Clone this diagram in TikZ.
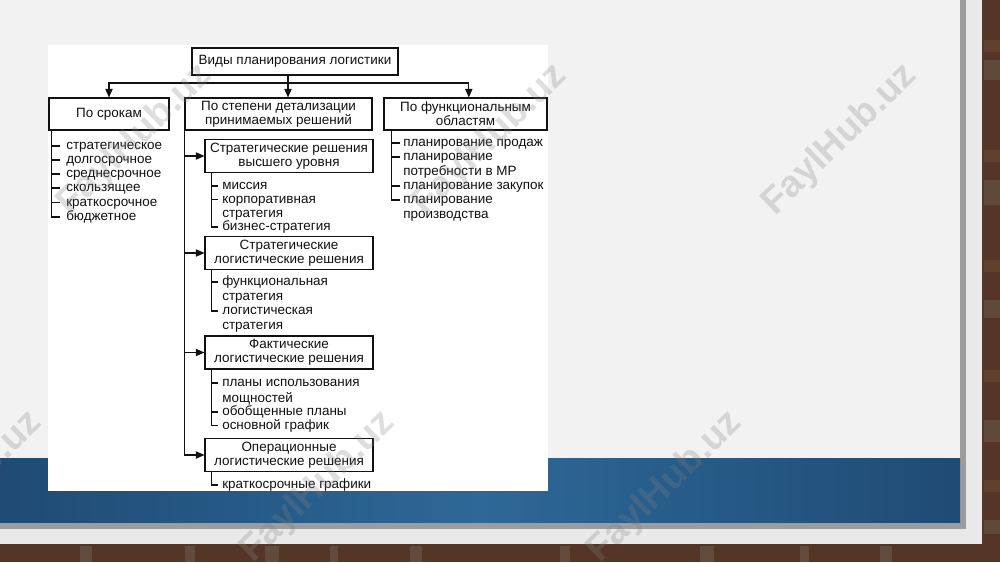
\documentclass[tikz,border=0pt]{standalone}
\usepackage{fontspec}
\setmainfont{Liberation Sans}
\usetikzlibrary{arrows.meta}
\definecolor{brick}{HTML}{553626}
\definecolor{brickB}{HTML}{6E4A36}
\definecolor{brickC}{HTML}{7D7568}
\definecolor{frame}{HTML}{E9E9E9}
\definecolor{slide}{HTML}{F2F2F2}
\definecolor{shadowgray}{HTML}{9C9C9C}
\definecolor{bandA}{HTML}{1F4B74}
\definecolor{bandB}{HTML}{2D6898}
\definecolor{ink}{HTML}{111111}
\newcommand{\fs}{\fontsize{10.1pt}{10.7pt}\selectfont}
\begin{document}
\begin{tikzpicture}[x=0.75pt,y=-0.75pt,
  box/.style={draw=ink, line width=0.8pt, fill=white, align=center, inner sep=0pt, font=\fs, text=ink},
  subbox/.style={box, minimum width=126pt, minimum height=24.75pt},
  item/.style={anchor=north west, align=left, inner sep=0pt, font=\fs, text=ink},
  ln/.style={line width=0.8pt, draw=ink},
  arr/.style={ln, -{Triangle[length=6.5pt,width=5.5pt]}},
  wm/.style={rotate=44, font=\fontsize{28pt}{28pt}\selectfont\bfseries, text=gray, opacity=0.26}]
\useasboundingbox (0,0) rectangle (1000,562);
% background (brick wall)
\fill[brick] (0,0) rectangle (1000,562);
\foreach \x/\w in {80/12,185/10,265/14,330/8,410/12,560/10,700/14,800/9,880/12}
  \fill[brickC, opacity=0.35] (\x,546) rectangle ++(\w,16);
\foreach \y/\h in {60/20,180/25,300/18,420/22,520/14}
  \fill[brickC, opacity=0.3] (984,\y) rectangle ++(16,\h);
\foreach \y in {40,150,260,370,480}
  \fill[brickB, opacity=0.5] (984,\y) rectangle ++(16,12);
\fill[frame] (0,0) rectangle (982,544);
\fill[shadowgray] (0,0) rectangle (966,529);
\fill[slide] (0,0) rectangle (960,522);
\shade[left color=bandA, right color=bandA, middle color=bandB] (0,458) rectangle (960,522);
\fill[white] (48,45) rectangle (548,491);
% top level
\node[box, minimum width=154.5pt, minimum height=20.25pt] (top) at (295,61.5) {Виды планирования логистики};
\node[box, minimum width=90pt, minimum height=24pt] (srok) at (109,114) {По срокам};
\node[box, minimum width=140.25pt, minimum height=24pt] (detal) at (278.5,114) {По степени детализации\\принимаемых решений};
\node[box, minimum width=122.25pt, minimum height=24pt] (func) at (465.5,114) {По функциональным\\областям};
\coordinate (bus) at (288,83);
\draw[ln] (top.south -| bus) -- (bus);
\draw[arr] (bus) -- (bus |- detal.north);
\draw[arr] (bus) -| (srok.north);
\draw[arr] (bus) -| ([xshift=2.5pt]func.north);
% left list
\node[item] (l1) at (66,139.5) {\strut стратегическое};
\node[item] (l2) at (66,153.5) {\strut долгосрочное};
\node[item] (l3) at (66,167.5) {\strut среднесрочное};
\node[item] (l4) at (66,181.5) {\strut скользящее};
\node[item] (l5) at (66,196) {\strut краткосрочное};
\node[item] (l6) at (66,210.5) {\strut бюджетное};
\draw[ln] ([xshift=2.25pt]srok.south west) |- ([shift={(-6,6.5)}]l6.north west);
\foreach \n in {l1,l2,l3,l4,l5} \draw[ln] ([shift={(-14,6.5)}]\n.north west) -- ++(8,0);
% right list
\node[item] (r1) at (403,136.5) {\strut планирование продаж};
\node[item] (r2) at (403,150.5) {\strut планирование\\потребности в МР};
\node[item] (r3) at (403,179.5) {\strut планирование закупок};
\node[item] (r4) at (403,193.5) {\strut планирование\\производства};
\draw[ln] ([xshift=6pt]func.south west) |- ([shift={(-3,6.5)}]r4.north west);
\foreach \n in {r1,r2,r3} \draw[ln] ([shift={(-11,6.5)}]\n.north west) -- ++(8,0);
% middle sub boxes
\node[subbox] (s1) at (289,156) {Стратегические решения\\высшего уровня};
\node[subbox] (s2) at (289,253) {Стратегические\\логистические решения};
\node[subbox] (s3) at (289,352.5) {Фактические\\логистические решения};
\node[subbox] (s4) at (289,455) {Операционные\\логистические решения};
\draw[ln] (detal.south west) -- (detal.south west |- s4.west);
\foreach \n in {s1,s2,s3,s4} \draw[arr] (detal.south west |- \n.west) -- (\n.west);
% sub lists
\node[item] (a1) at (222,179.5) {\strut миссия};
\node[item] (a2) at (222,193) {\strut корпоративная\\стратегия};
\node[item] (a3) at (222,220.5) {\strut бизнес-стратегия};
\draw[ln] ([xshift=5pt]s1.south west) |- ([shift={(-4,6.5)}]a3.north west);
\foreach \n in {a1,a2} \draw[ln] ([shift={(-11,6.5)}]\n.north west) -- ++(7,0);
\node[item] (b1) at (222,275.5) {\strut функциональная\\стратегия};
\node[item] (b2) at (222,304.5) {\strut логистическая\\стратегия};
\draw[ln] ([xshift=5pt]s2.south west) |- ([shift={(-4,6.5)}]b2.north west);
\draw[ln] ([shift={(-11,6.5)}]b1.north west) -- ++(7,0);
\node[item] (c1) at (222,376.5) {\strut планы использования\\мощностей};
\node[item] (c2) at (222,405.5) {\strut обобщенные планы};
\node[item] (c3) at (222,419) {\strut основной график};
\draw[ln] ([xshift=5pt]s3.south west) |- ([shift={(-4,6.5)}]c3.north west);
\foreach \n in {c1,c2} \draw[ln] ([shift={(-11,6.5)}]\n.north west) -- ++(7,0);
\node[item] (d1) at (222,478.5) {\strut краткосрочные графики};
\draw[ln] ([xshift=5pt]s4.south west) |- ([shift={(-4,6.5)}]d1.north west);
% watermarks
\foreach \p [count=\i] in {(135,140),(490,140),(840,140),(-35,487),(318,487),(665,487)}
  \node[wm] (wm\i) at \p {FaylHub.uz};
\end{tikzpicture}
\end{document}
